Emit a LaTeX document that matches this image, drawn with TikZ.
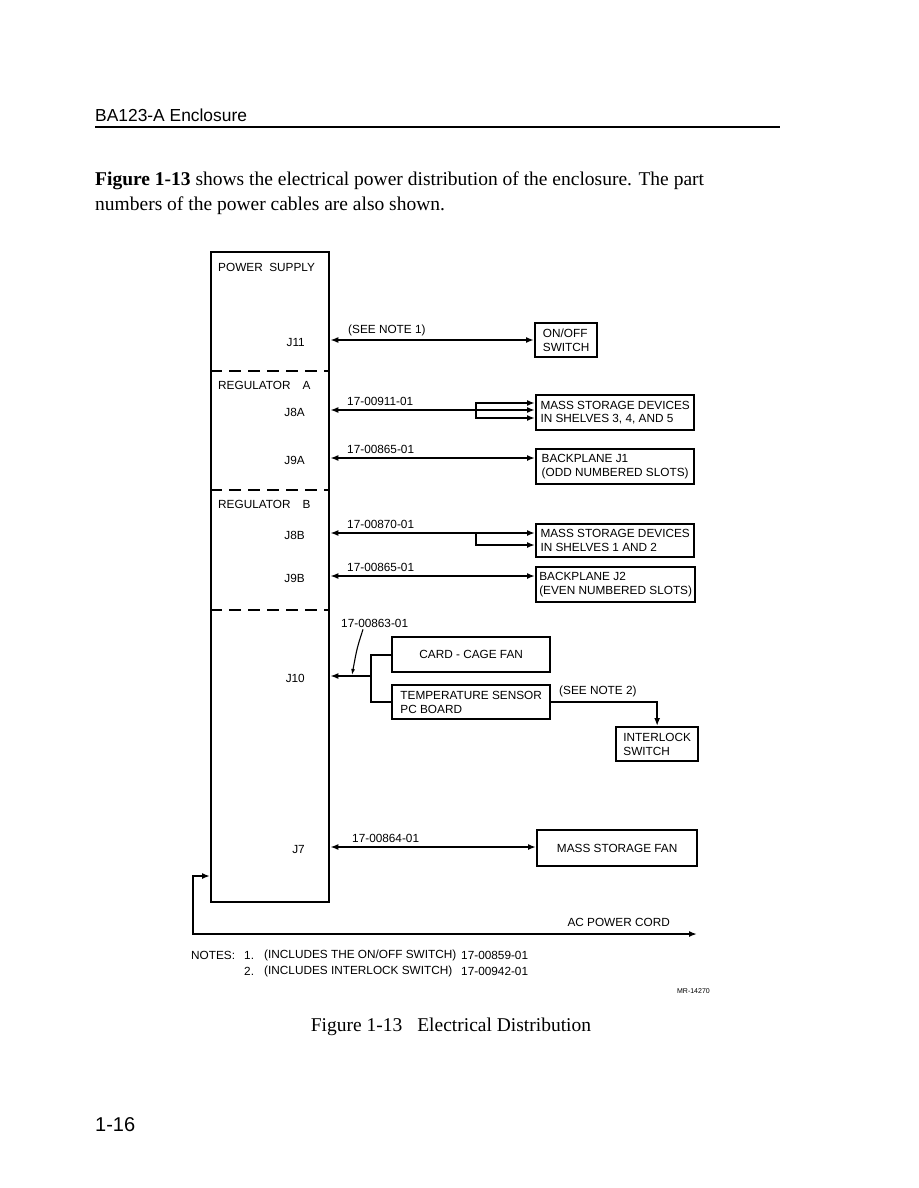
\documentclass[tikz,border=0pt]{standalone}
\usepackage{fontspec}
\setmainfont{Liberation Serif}
\setsansfont{Liberation Sans}
\usetikzlibrary{arrows.meta,positioning,calc}

\newcommand{\dfont}{\sffamily\fontsize{11.8}{13.8}\selectfont}
\newcommand{\bodyfont}{\rmfamily\fontsize{19.5}{24}\selectfont}

\begin{document}
\begin{tikzpicture}[
  x=1pt, y=-1pt,
  every node/.style={font=\dfont, inner sep=0pt},
  unit/.style={draw, line width=2.3pt, align=left, anchor=north west},
  cable/.style={line width=1.8pt},
  sep/.style={line width=1.8pt, dash pattern=on 12pt off 7pt},
  jack/.style={anchor=east},
  part/.style={anchor=west},
  >={Latex[length=8pt,width=6pt]}
]
  \useasboundingbox[fill=white] (0,0) rectangle (918,1188);

  % page head and text
  \node[anchor=base west, font=\sffamily\fontsize{17.4}{20}\selectfont] (head) at (95,122) {BA123-A Enclosure};
  \draw[line width=1.2pt] (head.south west |- 0,127) -- (780,127);
  \node[anchor=base west, font=\bodyfont] (txt1) at (95,185)
    {\textbf{Figure 1-13} shows the electrical power distribution of the enclosure. The part};
  \node[anchor=base west, font=\bodyfont] (txt2) at (95,210)
    {numbers of the power cables are also shown.};

  % power supply
  \node[unit, minimum width=118pt, minimum height=650pt] (ps) at (210,251) {};
  \node[anchor=west] (psl) at (218,267) {POWER\ \ SUPPLY};
  \node[anchor=west] (rga) at (218,385) {REGULATOR\hspace{12pt}A};
  \node[anchor=west] (rgb) at (218,504) {REGULATOR\hspace{12pt}B};
  \foreach \y in {371,490,610}
    \draw[sep] (ps.west |- 0,\y) -- (ps.east |- 0,\y);

  \foreach \y/\n/\t in {340/j11/J11, 410/j8a/J8A, 458/j9a/J9A, 533/j8b/J8B,
                        576/j9b/J9B, 676/j10/J10, 847/j7/J7}{
    \coordinate (\n) at (ps.east |- 0,\y);
    \node[jack] at (305,\y+2) {\t};
  }

  % units
  \node[unit, minimum width=62pt, minimum height=34pt] (sw) at (534,322) {ON/OFF\\SWITCH};
  \node[unit, minimum width=158pt, minimum height=35pt] (ms1) at (535,394)
    {MASS STORAGE DEVICES\\IN SHELVES 3, 4, AND 5};
  \node[unit, minimum width=158pt, minimum height=35pt] (bp1) at (535,448)
    {BACKPLANE J1\\(ODD NUMBERED SLOTS)};
  \node[unit, minimum width=158pt, minimum height=33pt] (ms2) at (535,523)
    {MASS STORAGE DEVICES\\IN SHELVES 1 AND 2};
  \node[unit, minimum width=159pt, minimum height=35pt] (bp2) at (535,566)
    {BACKPLANE J2\\(EVEN NUMBERED SLOTS)};
  \node[unit, minimum width=158pt, minimum height=35pt] (fan) at (391,636) {CARD - CAGE FAN};
  \node[unit, minimum width=158pt, minimum height=34pt] (tmp) at (391,684)
    {TEMPERATURE SENSOR\\PC BOARD};
  \node[unit, minimum width=82pt, minimum height=34pt] (ilk) at (615,726) {INTERLOCK\\SWITCH};
  \node[unit, minimum width=160pt, minimum height=36pt] (msf) at (536,829) {MASS STORAGE FAN};

  % cables
  \draw[cable, <->] (j11) -- (sw.west |- j11);
  \node[part] at (348,330) {(SEE NOTE 1)};

  \draw[cable, <->] (j8a) -- (ms1.west |- j8a);
  \coordinate (sp1) at (476,410);
  \draw[cable, ->] (sp1) |- (ms1.west |- 0,403);
  \draw[cable, ->] (sp1) |- (ms1.west |- 0,418);
  \node[part] at (347,401) {17-00911-01};

  \draw[cable, <->] (j9a) -- (bp1.west |- j9a);
  \node[part] at (347,449) {17-00865-01};

  \draw[cable, <->] (j8b) -- (ms2.west |- j8b);
  \coordinate (sp2) at (476,533);
  \draw[cable, ->] (sp2) |- (ms2.west |- 0,545);
  \node[part] at (347,524) {17-00870-01};

  \draw[cable, <->] (j9b) -- (bp2.west |- j9b);
  \node[part] at (347,567) {17-00865-01};

  \coordinate (sp3) at (371,676);
  \draw[cable, <-] (j10) -- (sp3);
  \draw[cable] (fan.west) -| (sp3) |- (tmp.west);
  \node[part] (c10) at (341,623) {17-00863-01};
  \coordinate (ld) at (352,675);
  \draw[line width=1.1pt, -{Latex[length=6pt,width=4pt]}]
    ([xshift=22pt,yshift=-2pt]c10.south west) .. controls (357,648) .. (ld);

  \draw[cable, ->] (tmp.east) -| (ilk.north);
  \node[part] at (559,691) {(SEE NOTE 2)};

  \draw[cable, <->] (j7) -- (msf.west |- j7);
  \node[part] at (352,838) {17-00864-01};

  % mains
  \coordinate (cb) at (193,934);
  \coordinate (cord) at (697,934);
  \draw[cable, <->] (ps.west |- 0,876) -| (cb) -- (cord);
  \node[anchor=east] at (670,922) {AC POWER CORD};

  % notes
  \node[anchor=west] (nt) at (191,955) {NOTES:};
  \node[anchor=west] at (244,955) {1.};
  \node[anchor=west] at (264,955) {(INCLUDES THE ON/OFF SWITCH)};
  \node[anchor=west] at (461,955) {17-00859-01};
  \node[anchor=west] at (244,971) {2.};
  \node[anchor=west] at (264,971) {(INCLUDES INTERLOCK SWITCH)};
  \node[anchor=west] at (461,971) {17-00942-01};
  \node[anchor=east, font=\sffamily\fontsize{7}{8}\selectfont] at (710,991) {MR-14270};

  % caption and folio
  \node[anchor=base, font=\bodyfont] (cap) at (451,1031) {Figure 1-13\hspace{10pt} Electrical Distribution};
  \node[anchor=base west, font=\sffamily\fontsize{20}{24}\selectfont] (folio) at (95,1131) {1-16};
\end{tikzpicture}
\end{document}
